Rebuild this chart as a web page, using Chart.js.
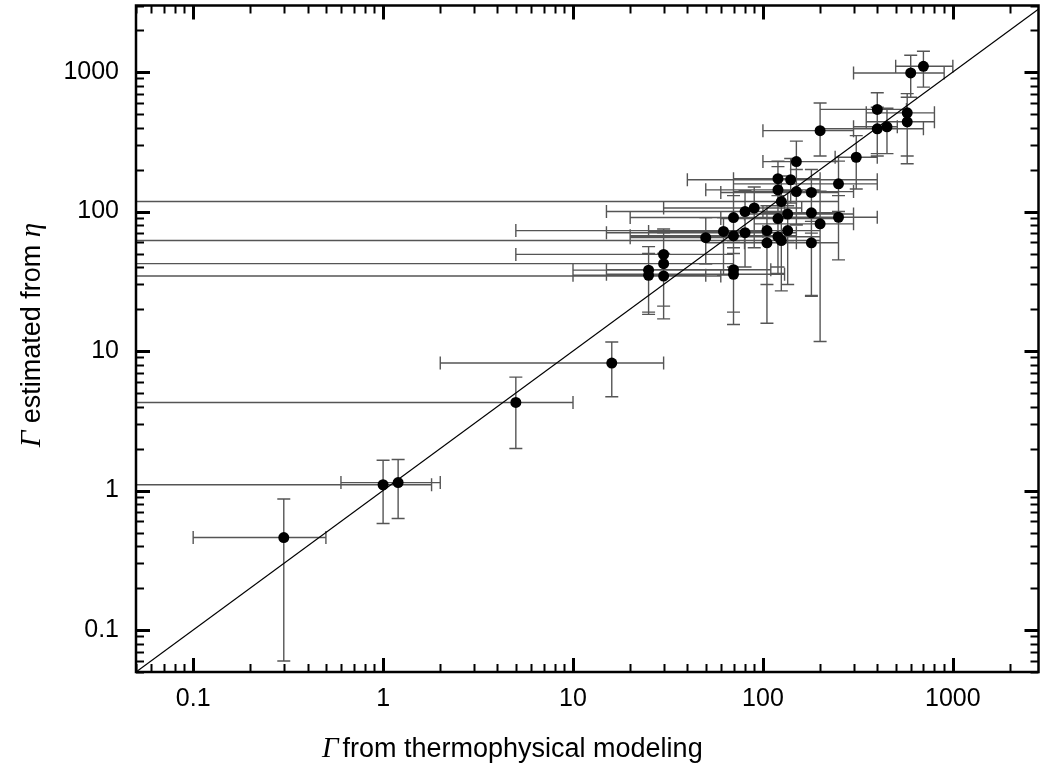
<!DOCTYPE html>
<html><head><meta charset="utf-8">
<script src="https://cdn.jsdelivr.net/npm/chart.js@4/dist/chart.umd.min.js"></script>
<style>html,body{margin:0;padding:0;background:#fff}#wrap{width:1044px;height:775px}</style>
</head><body><div id="wrap"><canvas id="c" width="1044" height="775"></canvas></div>
<script>
// Γ from thermophysical modeling (x) and Γ estimated from η (y), with error ranges
const gammaThermo = [700,600,400,575,575,450,400,200,310,150,250,120,140,120,150,180,125,90,80.5,70,120,135,180,250,200,62,50,70,80.5,105,135,120,125,105,180,30,30,25,25,30,70,70,0.3,1.0,1.2,5.0,16];
const gammaEta    = [1100,985,540,510,440,405,392,380,245,228,158,172,169,143,139,137,118,106,100,90.6,89,96,98,91,81.6,72,65,67,70.5,73,73,66,62,59.7,59.7,49.3,42.3,38,34.9,34.5,38.3,35.5,0.46,1.1,1.14,4.28,8.2];
const thermoLow   = [500,300,200,350,350,300,200,100,240,100,70,70,40,50,70,60,0.01,30,15,20,60,80,100,120,90,25,20,20,15,50,5,20,0.01,50,80,5,0.01,10,10,0.01,15,15,0.1,0.01,0.6,0.01,2.0];
const thermoHigh  = [1000,900,570,800,800,510,700,300,400,250,400,200,400,200,300,250,250,160,130,200,250,300,250,400,300,100,70,150,150,200,200,200,200,150,250,70,70,70,50,60,110,130,0.5,1.8,2.0,10,30];
const etaLow      = [780,660,260,220,250,260,250,250,145,140,100,110,115,90,80,70,70,55,40,50,40,60,25,45,11.7,35,42,40,40,30,30,36,27,15.8,24.7,21,17,19,18.3,17,19,15.5,0.06,0.58,0.63,2.0,4.7];
const etaHigh     = [1410,1320,710,700,660,550,560,600,350,320,230,230,240,210,200,200,180,150,140,130,130,140,140,130,140,90,90,100,100,110,110,100,100,90,85,75,70,56,50,50,60,55,0.87,1.65,1.67,6.5,11.6];
const tickLabels  = [0.1, 1, 10, 100, 1000];
const xRange = [0.05, 2825];
const yRange = [0.05, 3000];
const identityLine = [0.05, 3000];

const points = gammaThermo.map((v, i) => ({x: v, y: gammaEta[i]}));

const errorBars = {
  id: 'errorBars',
  beforeDatasetsDraw(chart) {
    const {ctx, chartArea: a, scales: {x, y}} = chart;
    ctx.save();
    ctx.beginPath();
    ctx.rect(a.left, a.top, a.right - a.left, a.bottom - a.top);
    ctx.clip();
    ctx.strokeStyle = '#555';
    ctx.lineWidth = 1.4;
    const cap = 6.5;
    ctx.beginPath();
    for (let i = 0; i < gammaThermo.length; i++) {
      const px = x.getPixelForValue(gammaThermo[i]);
      const py = y.getPixelForValue(gammaEta[i]);
      const xl = x.getPixelForValue(thermoLow[i]);
      const xh = x.getPixelForValue(thermoHigh[i]);
      const yl = y.getPixelForValue(etaLow[i]);
      const yh = y.getPixelForValue(etaHigh[i]);
      ctx.moveTo(xl, py); ctx.lineTo(xh, py);
      ctx.moveTo(xl, py - cap); ctx.lineTo(xl, py + cap);
      ctx.moveTo(xh, py - cap); ctx.lineTo(xh, py + cap);
      ctx.moveTo(px, yl); ctx.lineTo(px, yh);
      ctx.moveTo(px - cap, yl); ctx.lineTo(px + cap, yl);
      ctx.moveTo(px - cap, yh); ctx.lineTo(px + cap, yh);
    }
    ctx.stroke();
    ctx.restore();
  }
};

const frameTicks = {
  id: 'frameTicks',
  afterDatasetsDraw(chart) {
    const {ctx, chartArea: a, scales: {x, y}} = chart;
    ctx.save();
    ctx.strokeStyle = '#000';
    const seg = (x1, y1, x2, y2) => { ctx.beginPath(); ctx.moveTo(x1, y1); ctx.lineTo(x2, y2); ctx.stroke(); };
    for (let d = -2; d <= 4; d++) {
      for (let m = 1; m <= 9; m++) {
        const v = m * Math.pow(10, d);
        const major = m === 1;
        const len = major ? 14 : 8;
        ctx.lineWidth = major ? 3 : 2;
        if (v >= xRange[0] * 0.999 && v <= xRange[1]) {
          const px = Math.round(x.getPixelForValue(v)) + 0.5;
          seg(px, a.bottom, px, a.bottom - len);
          seg(px, a.top, px, a.top + len);
        }
        if (v >= yRange[0] * 0.999 && v <= yRange[1]) {
          const py = Math.round(y.getPixelForValue(v)) + 0.5;
          seg(a.left, py, a.left + len, py);
          seg(a.right, py, a.right - len, py);
        }
      }
    }
    ctx.lineWidth = 2.5;
    ctx.strokeRect(a.left, a.top, a.right - a.left, a.bottom - a.top);
    ctx.restore();
  }
};

const axisTitles = {
  id: 'axisTitles',
  afterDraw(chart) {
    const ctx = chart.ctx;
    ctx.save();
    ctx.fillStyle = '#000';
    ctx.textBaseline = 'alphabetic';
    const serif = 'italic 29px "Liberation Serif", "DejaVu Serif", serif';
    const sans = '27px "Liberation Sans", Arial, sans-serif';
    // x title
    let xPos = 322, base = 757;
    ctx.font = serif; ctx.fillText('\u0393', xPos, base); xPos += ctx.measureText('\u0393').width + 4;
    ctx.font = sans; ctx.fillText('from thermophysical modeling', xPos, base);
    // y title (rotated)
    const parts = [[serif, '\u0393'], [sans, ' estimated from '], [serif, '\u03B7']];
    let total = 0;
    for (const [f, t] of parts) { ctx.font = f; total += ctx.measureText(t).width; }
    ctx.translate(40, 335);
    ctx.rotate(-Math.PI / 2);
    let p = -total / 2;
    for (const [f, t] of parts) { ctx.font = f; ctx.fillText(t, p, 0); p += ctx.measureText(t).width; }
    ctx.restore();
  }
};

const tickFont = {family: '"Liberation Sans", Arial, sans-serif', size: 25};

new Chart(document.getElementById('c'), {
  type: 'scatter',
  data: {
    datasets: [
      {
        data: points,
        backgroundColor: '#000',
        borderColor: '#000',
        borderWidth: 0,
        pointRadius: 5.5,
        order: 1
      },
      {
        data: identityLine.map(v => ({x: v, y: v})),
        showLine: true,
        borderColor: '#000',
        borderWidth: 1.2,
        pointRadius: 0,
        fill: false,
        order: 2
      }
    ]
  },
  options: {
    responsive: false,
    devicePixelRatio: 1,
    animation: false,
    events: [],
    layout: {padding: {top: 4, right: 2, left: 0, bottom: 0}},
    plugins: {legend: {display: false}, tooltip: {enabled: false}},
    scales: {
      x: {
        type: 'logarithmic',
        min: xRange[0], max: xRange[1],
        grid: {display: false, drawTicks: false},
        border: {display: false},
        afterBuildTicks: s => { s.ticks = tickLabels.map(v => ({value: v})); },
        afterFit: s => { s.height = 103; s.paddingLeft = 0; s.paddingRight = 0; },
        ticks: {font: tickFont, color: '#000', padding: 12, autoSkip: false, maxRotation: 0,
                callback: v => String(v)}
      },
      y: {
        type: 'logarithmic',
        min: yRange[0], max: yRange[1],
        grid: {display: false, drawTicks: false},
        border: {display: false},
        afterBuildTicks: s => { s.ticks = tickLabels.map(v => ({value: v})); },
        afterFit: s => { s.width = 136; s.paddingTop = 0; s.paddingBottom = 0; },
        ticks: {font: tickFont, color: '#000', padding: 17, autoSkip: false,
                callback: v => String(v)}
      }
    }
  },
  plugins: [errorBars, frameTicks, axisTitles]
});
</script>
</body></html>
